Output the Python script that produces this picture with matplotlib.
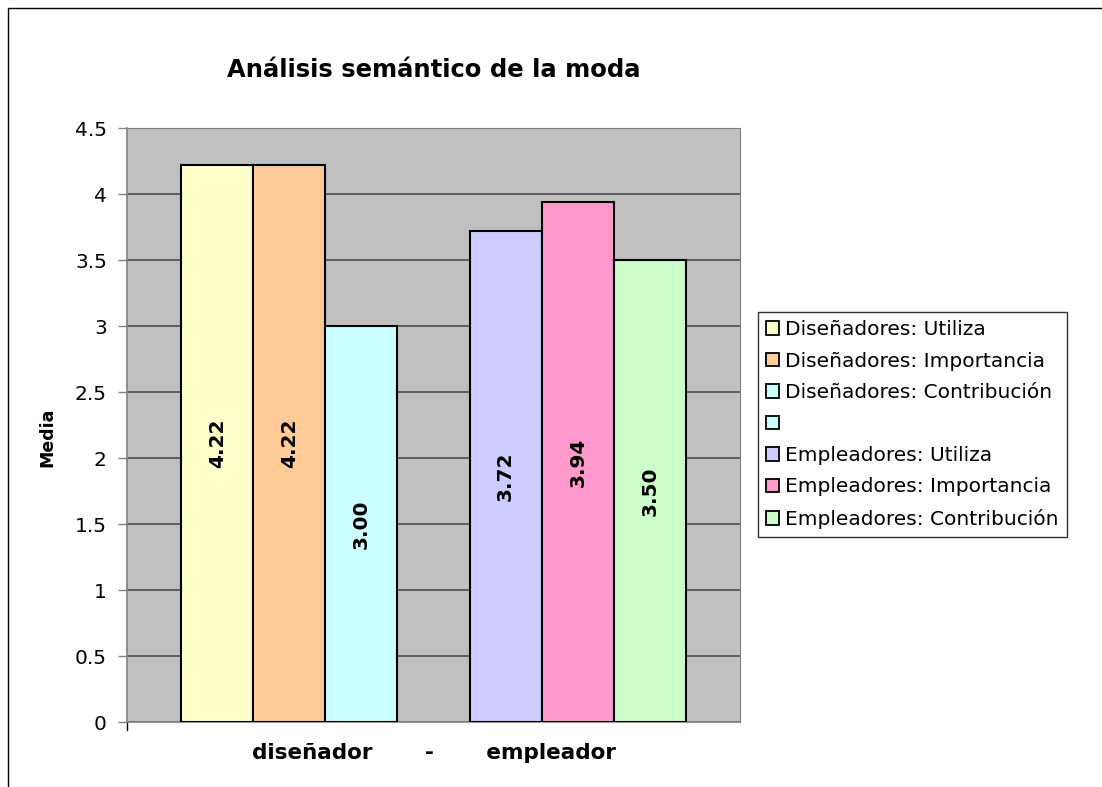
import numpy as np
import matplotlib
matplotlib.use("Agg")
import matplotlib.pyplot as plt
from matplotlib.patches import Patch, Rectangle

# series data (one category, 7 series; 4th series is empty)
series_names = ["Diseñadores: Utiliza", "Diseñadores: Importancia", "Diseñadores: Contribución",
                " ", "Empleadores: Utiliza", "Empleadores: Importancia", "Empleadores: Contribución"]
values = [4.22, 4.22, 3.00, np.nan, 3.72, 3.94, 3.50]
colors = ["#FFFFCC", "#FFCC99", "#CCFFFF", "#CCFFFF", "#CCCCFF", "#FF99CC", "#CCFFCC"]
category_label = "diseñador       -       empleador"
yticks = [0, 0.5, 1, 1.5, 2, 2.5, 3, 3.5, 4, 4.5]

plt.rcParams['font.family'] = ['DejaVu Sans']

W, H = 1102, 787
fig = plt.figure(figsize=(W / 100, H / 100), dpi=100)
fig.patch.set_facecolor("white")

# outer chart frame
fig.add_artist(Rectangle((8 / W, -0.1), 1.2, 1 - 8 / H + 0.1, transform=fig.transFigure,
                         fill=False, edgecolor="black", linewidth=1))

# plot area
ax = fig.add_axes([127 / W, 1 - 722 / H, (740 - 127) / W, (722 - 128) / H])
ax.set_facecolor("#C0C0C0")
ax.set_ylim(0, 4.5)
ax.set_xlim(-0.75, 7.75)
ax.set_yticks(yticks)
ax.set_yticklabels([f"{t:g}" for t in yticks], fontsize=14.5)
ax.yaxis.grid(True, color="#4d4d4d", linewidth=1.2)
ax.set_axisbelow(True)
for s in ["top", "right"]:
    ax.spines[s].set_visible(True)
    ax.spines[s].set_color("#808080")
for s in ["left", "bottom"]:
    ax.spines[s].set_color("#808080")
    ax.spines[s].set_linewidth(1.2)
ax.tick_params(axis="y", length=6.5, width=1, color="#808080", pad=8)
ax.set_xticks([])

handles = []
for i, (v, c) in enumerate(zip(values, colors)):
    if not np.isnan(v):
        ax.bar(i + 0.5, v, width=1.0, color=c, edgecolor="black", linewidth=1.5, zorder=3)
        ax.text(i + 0.5, v / 2, f"{v:.2f}", rotation=90, ha="center", va="center",
                fontsize=14.5, fontweight="bold", zorder=4)
    handles.append(Patch(facecolor=c, edgecolor="black", linewidth=1.3))

# category boundary tick
ax.plot([-0.75, -0.75], [0, -0.06], color="black", linewidth=1, clip_on=False)

ax.text(3.5, -0.235, category_label, ha="center", va="center", fontsize=15.5, fontweight="bold")
fig.text(47 / W, 1 - 437 / H, "Media", rotation=90, ha="center", va="center",
         fontsize=12.5, fontweight="bold")

fig.text(434 / W, 1 - 70 / H, "Análisis semántico de la moda", ha="center", va="center",
         fontsize=17.5, fontweight="bold")

leg = fig.legend(handles, series_names, loc="upper left",
                 bbox_to_anchor=(758 / W, 1 - 312 / H), bbox_transform=fig.transFigure,
                 fontsize=14.5, frameon=True, fancybox=False, handlelength=0.65,
                 handleheight=0.65, handletextpad=0.3, labelspacing=0.62,
                 borderpad=0.4, borderaxespad=0)
leg.get_frame().set_edgecolor("black")
leg.get_frame().set_linewidth(1)

fig.savefig("out.png", dpi=100)
